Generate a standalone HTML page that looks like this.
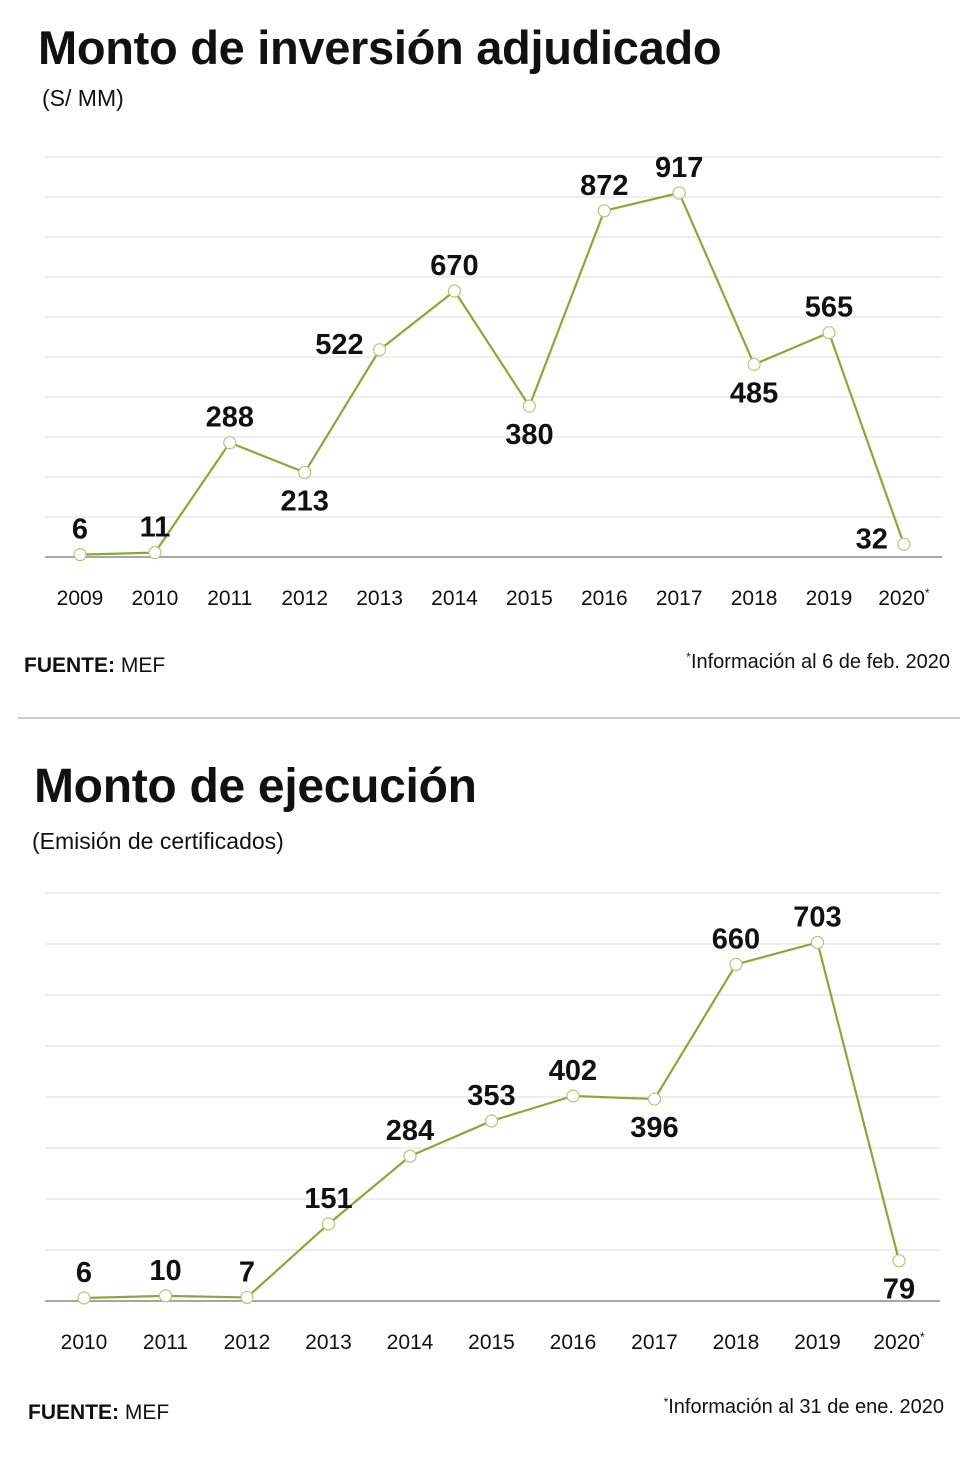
<!DOCTYPE html>
<html><head><meta charset="utf-8"><style>
body{margin:0;background:#fff;width:980px;height:1454px;overflow:hidden;font-family:"Liberation Sans",sans-serif;}
svg text{font-family:"Liberation Sans",sans-serif;}
</style></head><body>
<svg id="svg" width="980" height="1454" xmlns="http://www.w3.org/2000/svg">
<text x="38" y="64" font-size="47" font-weight="bold" fill="#111" letter-spacing="-0.3">Monto de inversión adjudicado</text>
<text x="42" y="106" font-size="23" fill="#111">(S/ MM)</text>
<text x="24" y="672" font-size="21" font-weight="bold" fill="#111">FUENTE:<tspan font-weight="normal"> MEF</tspan></text>
<text x="950" y="668" font-size="20" fill="#111" text-anchor="end"><tspan font-size="12" dy="-7">*</tspan><tspan dy="7">Información al 6 de feb. 2020</tspan></text>
<line x1="18" y1="718" x2="960" y2="718" stroke="#ccc" stroke-width="2"/>
<text x="34" y="802" font-size="48" font-weight="bold" fill="#111" letter-spacing="-0.3">Monto de ejecución</text>
<text x="32" y="849" font-size="23" fill="#111">(Emisión de certificados)</text>
<text x="28" y="1419" font-size="21" font-weight="bold" fill="#111">FUENTE:<tspan font-weight="normal"> MEF</tspan></text>
<text x="944" y="1413" font-size="20" fill="#111" text-anchor="end"><tspan font-size="12" dy="-7">*</tspan><tspan dy="7">Información al 31 de ene. 2020</tspan></text>
<g id="c1"></g>
<g id="c2"></g>
</svg>
<script>
const years1=["2009","2010","2011","2012","2013","2014","2015","2016","2017","2018","2019","2020"];
const values1=[6,11,288,213,522,670,380,872,917,485,565,32];
const labelPos1=["up","up","up","down","left","up","down","up","up","down","up","left"];
const years2=["2010","2011","2012","2013","2014","2015","2016","2017","2018","2019","2020"];
const values2=[6,10,7,151,284,353,402,396,660,703,79];
const labelPos2=["up","up","up","up","up","up","up","down","up","up","down"];
const NS="http://www.w3.org/2000/svg";
function mk(t,a,p){const e=document.createElementNS(NS,t);for(const k in a)e.setAttribute(k,a[k]);p.appendChild(e);return e;}
function draw(g,cfg,years,values,pos,prefix){
  const xs=i=>cfg.x0+i*cfg.step;
  const ys=v=>cfg.base-v*cfg.pxPer;
  for(let k=1;k<=cfg.grids;k++){
    const l=mk('line',{x1:cfg.gx0,x2:cfg.gx1,y1:cfg.base-k*cfg.gridPx,y2:cfg.base-k*cfg.gridPx,stroke:'#dcdcdc','stroke-width':1},g);
    
    
  }
  const ax=mk('line',{x1:cfg.gx0,x2:cfg.gx1,y1:cfg.base,y2:cfg.base,stroke:'#888','stroke-width':1.5},g);
  
  
  const pts=values.map((v,i)=>xs(i)+','+ys(v)).join(' ');
  const pl=mk('polyline',{points:pts,fill:'none',stroke:'#8aa83a','stroke-width':2.2},g);
  
  
  values.forEach((v,i)=>{
    const c=mk('circle',{cx:xs(i),cy:ys(v),r:6,fill:'#fff',stroke:'#b5c77f','stroke-width':1.2},g);
    
    
    let tx=xs(i),ty=ys(v)-16,anc='middle';
    if(pos[i]==='down')ty=ys(v)+38;
    if(pos[i]==='left'){tx=xs(i)-16;ty=ys(v)+4;anc='end';}
    const t=mk('text',{x:tx,y:ty,'font-size':29,'font-weight':'bold','text-anchor':anc,fill:'#111'},g);
    t.textContent=v;
    
    
    const yl=mk('text',{x:xs(i),y:cfg.base+48,'font-size':21,'text-anchor':'middle',fill:'#111'},g);
    yl.textContent=years[i];
    
    
    if(i===years.length-1){const s=mk('tspan',{'font-size':12,dy:-8},yl);s.textContent='*';}
  });
}
draw(document.getElementById('c1'),{x0:80,step:74.9,base:557,pxPer:0.397,grids:10,gridPx:40,gx0:45,gx1:942},years1,values1,labelPos1,'chart1');
draw(document.getElementById('c2'),{x0:84,step:81.5,base:1301,pxPer:0.51,grids:8,gridPx:51,gx0:45,gx1:940},years2,values2,labelPos2,'chart2');
</script>
</body></html>
